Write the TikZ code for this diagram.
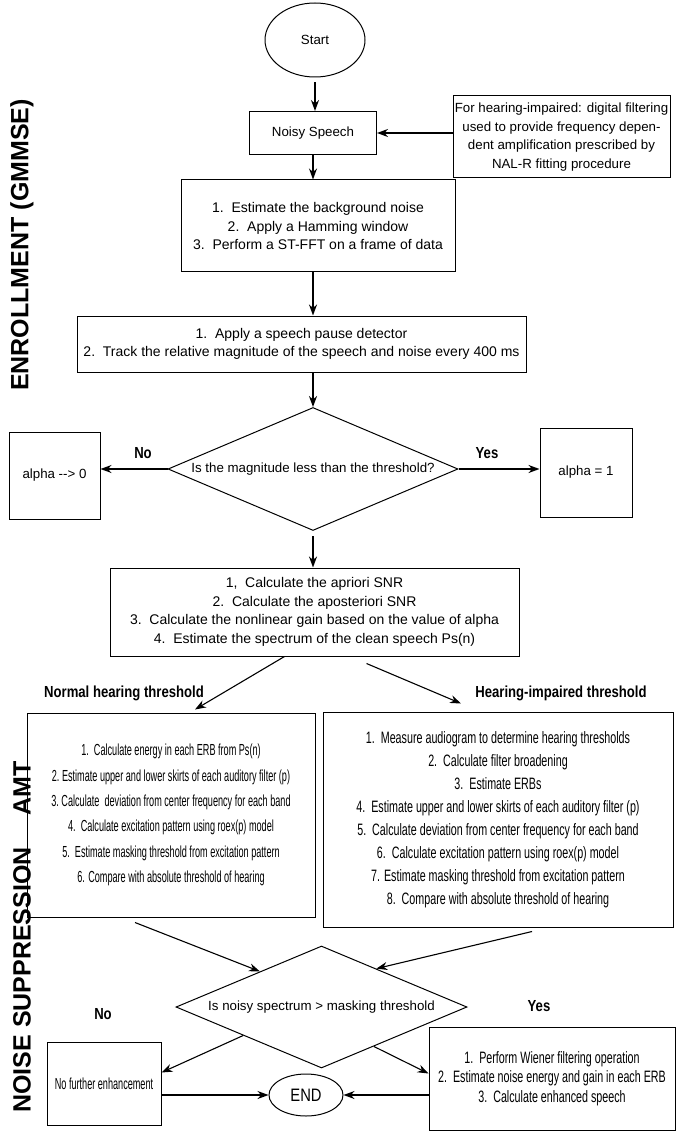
\documentclass[tikz,border=0pt]{standalone}
\usepackage{fontspec}
\setmainfont{Liberation Sans}
\newfontfamily\narrowa[FakeStretch=0.57]{Liberation Sans}
\newfontfamily\narrowb[FakeStretch=0.65]{Liberation Sans}
\newfontfamily\narrowc[FakeStretch=0.82]{Liberation Sans}
\usetikzlibrary{shapes.geometric,arrows.meta}

\begin{document}
\begin{tikzpicture}[x=1pt,y=-1pt,
	box/.style={rectangle,draw,line width=1pt,align=center,inner sep=0pt,font=\fontsize{13.3}{18.5}\selectfont},
	bigbox/.style={box,font=\fontsize{14}{18.7}\selectfont},
	oval/.style={ellipse,draw,line width=1pt,inner sep=0pt},
	dec/.style={diamond,draw,line width=1pt,inner sep=0pt,aspect=2.4,font=\fontsize{13.3}{16}\selectfont},
	lbl/.style={font=\narrowc\bfseries\fontsize{16}{19}\selectfont},
	side/.style={rotate=90,font=\bfseries\fontsize{25}{30}\selectfont},
	arr/.style={-{Stealth[length=11pt,width=8pt]},line width=1.1pt},
	tharr/.style={arr,line width=2pt}]
\useasboundingbox (0,0) rectangle (676,1131);
\node [oval,minimum width=100pt,minimum height=74pt,font=\fontsize{13.3}{16}\selectfont] (start) at (315,40) {Start};
\node [box,minimum width=127pt,minimum height=43pt] (noisy) at (313,133) {Noisy Speech};
\node [box,minimum width=217pt,minimum height=82pt] (filt) at (561.5,137) {For hearing-impaired: digital filtering\\used to provide frequency depen-\\dent amplification prescribed by\\NAL-R fitting procedure};
\node [bigbox,minimum width=274pt,minimum height=92pt] (est) at (318,226) {1.\ \ Estimate the background noise\\2.\ \ Apply a Hamming window\\3.\ \ Perform a ST-FFT on a frame of data};
\node [bigbox,minimum width=449pt,minimum height=56pt] (pause) at (301.5,344) {1.\ \ Apply a speech pause detector\\2.\ \ Track the relative magnitude of the speech and noise every 400 ms};
\node [dec,minimum width=290pt,minimum height=123pt] (magn) at (313,469) {Is the magnitude less than the threshold?};
\node [box,minimum width=91pt,minimum height=87pt] (azero) at (54.5,475.5) {alpha -{}-> 0};
\node [box,minimum width=92pt,minimum height=89pt] (aone) at (586,472.5) {alpha = 1};
\node [lbl] (no1) at (143,453) {No};
\node [lbl] (yes1) at (487,453) {Yes};
\node [bigbox,minimum width=409pt,minimum height=88pt] (snr) at (314.5,612) {1,\ \ Calculate the apriori SNR\\2.\ \ Calculate the aposteriori SNR\\3.\ \ Calculate the nonlinear gain based on the value of alpha\\4.\ \ Estimate the spectrum of the clean speech Ps(n)};
\node [lbl] (normal) at (124,693) {Normal hearing threshold};
\node [lbl] (impair) at (561,693) {Hearing-impaired threshold};
\node [box,minimum width=288pt,minimum height=204pt,font=\narrowa\fontsize{16}{25.3}\selectfont] (amtn) at (171,815) {1.\ \ Calculate energy in each ERB from Ps(n)\\2.\ Estimate upper and lower skirts of each auditory filter (p)\\3.\ Calculate\ \ deviation from center frequency for each band\\4.\ \ Calculate excitation pattern using roex(p) model\\5.\ \ Estimate masking threshold from excitation pattern\\6. Compare with absolute threshold of hearing};
\node [box,minimum width=350pt,minimum height=215pt,font=\narrowb\fontsize{16.5}{23}\selectfont] (amti) at (498,819.5) {1.\ \ Measure audiogram to determine hearing thresholds\\2.\ \ Calculate filter broadening\\3.\ \ Estimate ERBs\\4.\ \ Estimate upper and lower skirts of each auditory filter (p)\\5.\ \ Calculate deviation from center frequency for each band\\6.\ \ Calculate excitation pattern using roex(p) model\\7. Estimate masking threshold from excitation pattern\\8.\ \ Compare with absolute threshold of hearing};
\node [dec,minimum width=291pt,minimum height=122pt] (mask) at (321.5,1007) {Is noisy spectrum > masking threshold};
\node [lbl] (no2) at (103,1014) {No};
\node [lbl] (yes2) at (539,1006) {Yes};
\node [box,minimum width=114pt,minimum height=83pt,font=\narrowa\fontsize{16}{19}\selectfont] (nofur) at (104,1083.5) {No further enhancement};
\node [box,minimum width=246pt,minimum height=103pt,font=\narrowb\fontsize{16.5}{19.5}\selectfont] (wien) at (552,1078.5) {1.\ \ Perform Wiener filtering operation\\2.\ \ Estimate noise energy and gain in each ERB\\3.\ \ Calculate enhanced speech};
\node [oval,minimum width=74pt,minimum height=42pt,font=\narrowc\fontsize{18}{22}\selectfont] (finish) at (306,1095) {END};
\node [side] (enrol) at (22,245) {ENROLLMENT (GMMSE)};
\node [side] (amtlab) at (22,788) {AMT};
\node [side] (nslab) at (22,980) {NOISE SUPPRESSION};
\draw [arr,shorten <=5pt] (start.south) -- (start.south |- noisy.north);
\draw [tharr] (filt.west |- noisy.east) -- (noisy.east);
\draw [arr] (noisy) -- (noisy |- est.north);
\draw [tharr] (noisy |- est.south) -- (noisy |- pause.north);
\draw [tharr] (magn.north |- pause.south) -- (magn.north);
\draw [arr] (magn.west) -- (magn.west -| azero.east);
\draw [tharr] (magn.east) -- (magn.east -| aone.west);
\draw [tharr,shorten <=5pt] (magn.south) -- (magn.south |- snr.north);
\draw [arr] ([xshift=-30pt]snr.south) -- ([xshift=24pt,yshift=3pt]amtn.north);
\draw [arr] ([xshift=52pt,yshift=-7pt]snr.south) -- ([xshift=-37pt,yshift=8pt]amti.north);
\draw [arr] ([xshift=-36pt,yshift=-5pt]amtn.south) -- (mask.150);
\draw [arr] ([xshift=34pt,yshift=-4pt]amti.south) -- (mask.35);
\draw [arr] (mask.200) -- ([yshift=11pt]nofur.east);
\draw [arr] (mask.323) -- ([yshift=5pt]wien.west);
\draw [arr] (nofur.east |- finish.west) -- (finish.west);
\draw [arr] (wien.west |- finish.east) -- (finish.east);
\end{tikzpicture}
\end{document}
